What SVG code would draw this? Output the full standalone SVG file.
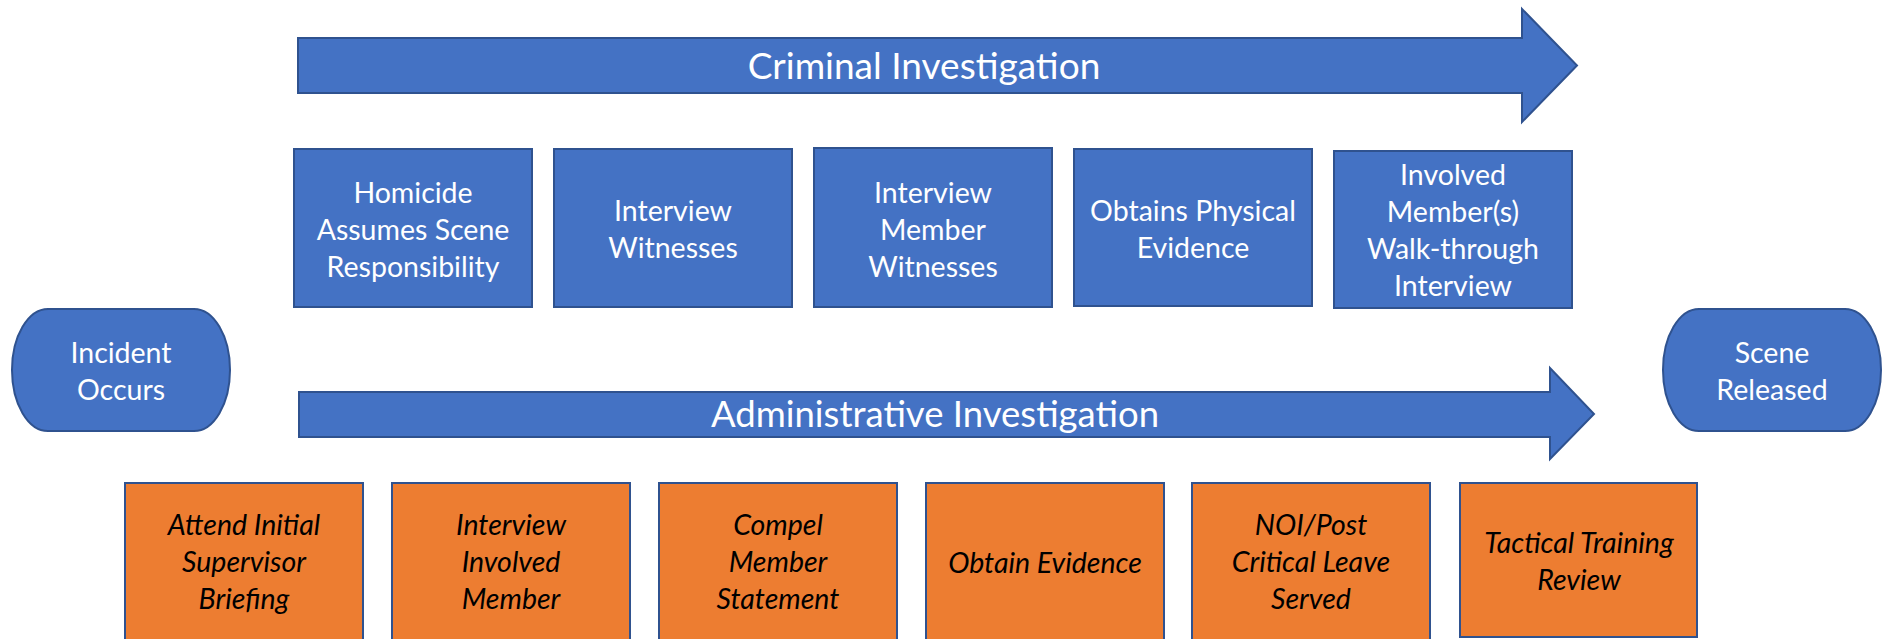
<svg xmlns="http://www.w3.org/2000/svg" width="1887" height="639" viewBox="0 0 1887 639">
<style>
.blue{fill:#4472C4;stroke:#2F528F;stroke-width:2}
.orange{fill:#ED7D31;stroke:#2F528F;stroke-width:2}
.wt{font-family:Lato,"Open Sans",sans-serif;font-size:28.5px;fill:#FFFFFF;text-anchor:middle}
.bt{font-family:Lato,"Open Sans",sans-serif;font-size:28.5px;font-style:italic;fill:#000000;text-anchor:middle}
.at{font-family:Lato,"Open Sans",sans-serif;font-size:37px;fill:#FFFFFF;text-anchor:middle}
</style>
<rect width="1887" height="639" fill="#FFFFFF"/>
<g id="connectors">
<g id="criminal-arrow">
<path class="blue" d="M298,38 H1522 V9 L1577,65.5 L1522,122 V93 H298 Z"/>
<text class="at" x="924" y="79">Criminal Investigation</text>
</g>
<g id="admin-arrow">
<path class="blue" d="M299,392 H1550 V368 L1594,414 L1550,459 V437 H299 Z"/>
<text class="at" x="935" y="427" style="font-size:36.5px">Administrative Investigation</text>
</g>
</g>
<g id="incident">
<rect class="blue" x="12" y="309" width="218" height="122" rx="36" ry="61"/>
<text class="wt" x="121" y="363">Incident</text>
<text class="wt" x="121" y="400">Occurs</text>
</g>
<g id="scene">
<rect class="blue" x="1663" y="309" width="218" height="122" rx="36" ry="61"/>
<text class="wt" x="1772" y="363">Scene</text>
<text class="wt" x="1772" y="400">Released</text>
</g>
<g id="c1">
<rect class="blue" x="294" y="149" width="238" height="158"/>
<text class="wt" x="413" y="203">Homicide</text>
<text class="wt" x="413" y="240">Assumes Scene</text>
<text class="wt" x="413" y="277">Responsibility</text>
</g>
<g id="c2">
<rect class="blue" x="554" y="149" width="238" height="158"/>
<text class="wt" x="673" y="221">Interview</text>
<text class="wt" x="673" y="258">Witnesses</text>
</g>
<g id="c3">
<rect class="blue" x="814" y="148" width="238" height="159"/>
<text class="wt" x="933" y="203">Interview</text>
<text class="wt" x="933" y="240">Member</text>
<text class="wt" x="933" y="277">Witnesses</text>
</g>
<g id="c4">
<rect class="blue" x="1074" y="149" width="238" height="157"/>
<text class="wt" x="1193" y="221">Obtains Physical</text>
<text class="wt" x="1193" y="258">Evidence</text>
</g>
<g id="c5">
<rect class="blue" x="1334" y="151" width="238" height="157"/>
<text class="wt" x="1453" y="185">Involved</text>
<text class="wt" x="1453" y="222">Member(s)</text>
<text class="wt" x="1453" y="259">Walk-through</text>
<text class="wt" x="1453" y="296">Interview</text>
</g>
<g id="a1">
<rect class="orange" x="125" y="483" width="238" height="160"/>
<text class="bt" x="244" y="535">Attend Initial</text>
<text class="bt" x="244" y="572">Supervisor</text>
<text class="bt" x="244" y="609">Briefing</text>
</g>
<g id="a2">
<rect class="orange" x="392" y="483" width="238" height="160"/>
<text class="bt" x="511" y="535">Interview</text>
<text class="bt" x="511" y="572">Involved</text>
<text class="bt" x="511" y="609">Member</text>
</g>
<g id="a3">
<rect class="orange" x="659" y="483" width="238" height="160"/>
<text class="bt" x="778" y="535">Compel</text>
<text class="bt" x="778" y="572">Member</text>
<text class="bt" x="778" y="609">Statement</text>
</g>
<g id="a4">
<rect class="orange" x="926" y="483" width="238" height="160"/>
<text class="bt" x="1045" y="573">Obtain Evidence</text>
</g>
<g id="a5">
<rect class="orange" x="1192" y="483" width="238" height="160"/>
<text class="bt" x="1311" y="535">NOI/Post</text>
<text class="bt" x="1311" y="572">Critical Leave</text>
<text class="bt" x="1311" y="609">Served</text>
</g>
<g id="a6">
<rect class="orange" x="1460" y="483" width="237" height="154"/>
<text class="bt" x="1579" y="553">Tactical Training</text>
<text class="bt" x="1579" y="590">Review</text>
</g>
</svg>
